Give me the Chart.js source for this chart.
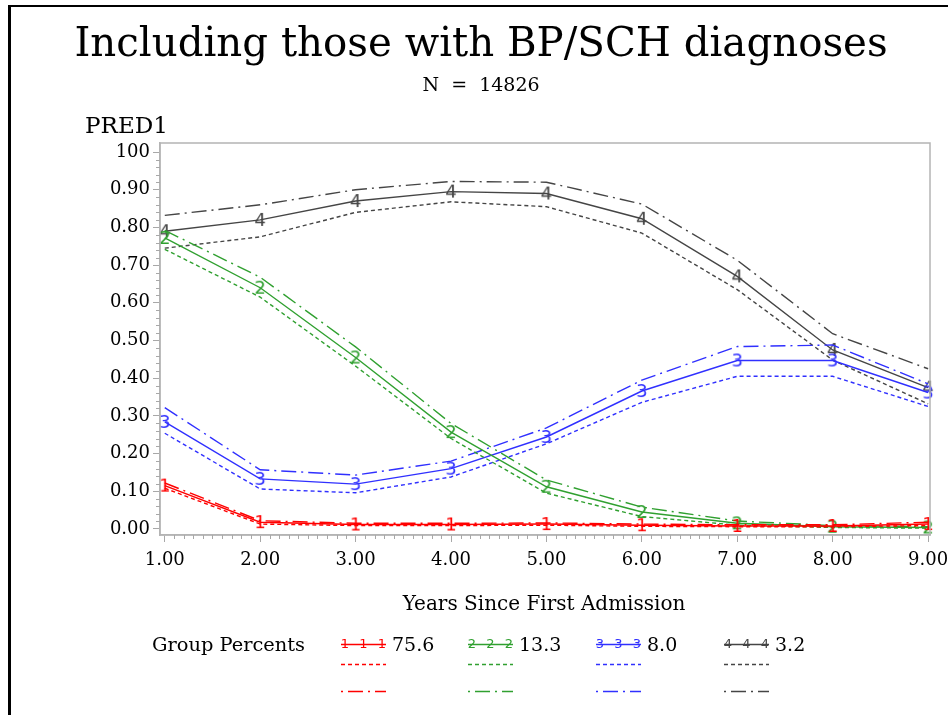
<!DOCTYPE html>
<html>
<head>
<meta charset="utf-8">
<script src="https://cdn.jsdelivr.net/npm/chart.js@4.4.0/dist/chart.umd.min.js"></script>
<style>
  body { margin: 0; background: #fff; }
  #wrap { position: relative; width: 948px; height: 715px; overflow: hidden; }
  #frame { position: absolute; left: 8px; top: 5px; width: 960px; height: 720px;
           border-top: 2px solid #000; border-left: 3px solid #000; }
  canvas { position: absolute; left: 0; top: 0; }
</style>
</head>
<body>
<div id="wrap">
  <canvas id="chart" width="948" height="715"></canvas>
  <div id="frame"></div>
</div>
<script>
// Data
const years = [1, 2, 3, 4, 5, 6, 7, 8, 9];
const xTicks = [1, 2, 3, 4, 5, 6, 7, 8, 9];
const xTickLabels = ['1.00', '2.00', '3.00', '4.00', '5.00', '6.00', '7.00', '8.00', '9.00'];
const yTicks = [0, 0.1, 0.2, 0.3, 0.4, 0.5, 0.6, 0.7, 0.8, 0.9, 1.0];
const yTickLabels = ['0.00', '0.10', '0.20', '0.30', '0.40', '0.50', '0.60', '0.70', '0.80', '0.90', '100'];

const groupNames = ['1', '2', '3', '4'];
const groupPercents = ['75.6', '13.3', '8.0', '3.2'];

const pred1 = [0.115, 0.018, 0.012, 0.012, 0.013, 0.010, 0.008, 0.008, 0.013];
const low1  = [0.108, 0.013, 0.009, 0.009, 0.010, 0.007, 0.006, 0.006, 0.009];
const upp1  = [0.122, 0.022, 0.015, 0.015, 0.016, 0.013, 0.011, 0.011, 0.018];

const pred2 = [0.772, 0.640, 0.455, 0.257, 0.112, 0.045, 0.015, 0.006, 0.004];
const low2  = [0.742, 0.615, 0.432, 0.240, 0.095, 0.033, 0.010, 0.004, 0.002];
const upp2  = [0.792, 0.668, 0.483, 0.280, 0.130, 0.058, 0.021, 0.009, 0.006];

const pred3 = [0.284, 0.133, 0.119, 0.160, 0.244, 0.366, 0.447, 0.447, 0.362];
const low3  = [0.254, 0.106, 0.096, 0.138, 0.226, 0.336, 0.405, 0.405, 0.325];
const upp3  = [0.322, 0.157, 0.143, 0.180, 0.268, 0.395, 0.484, 0.488, 0.385];

const pred4 = [0.790, 0.820, 0.870, 0.895, 0.890, 0.823, 0.670, 0.475, 0.375];
const low4  = [0.745, 0.775, 0.840, 0.868, 0.855, 0.785, 0.635, 0.448, 0.332];
const upp4  = [0.832, 0.860, 0.900, 0.922, 0.920, 0.862, 0.713, 0.518, 0.425];

const preds = [pred1, pred2, pred3, pred4];
const lows = [low1, low2, low3, low4];
const upps = [upp1, upp2, upp3, upp4];

const colors = ['#ff0000', '#30a030', '#3030ff', '#454545'];
const dashLow = [4, 3];
const dashUpp = [15, 5, 2, 5];

const serif = '"DejaVu Serif", serif';

// digit glyph used as point marker
function digitMarker(ch, color, size) {
    const c = document.createElement('canvas');
    c.width = Math.round(size * 0.8);
    c.height = Math.round(size * 1.2);
    const g = c.getContext('2d');
    g.font = size + 'px "DejaVu Sans"';
    g.fillStyle = color;
    g.textAlign = 'center';
    g.textBaseline = 'middle';
    g.fillText(ch, c.width / 2, c.height / 2 + 1);
    return c;
}

function pts(arr) {
    return years.map((x, i) => ({ x: x, y: arr[i] }));
}

const datasets = [];
for (let g = 0; g < 4; g++) {
    datasets.push({
        label: 'Group ' + groupNames[g],
        data: pts(preds[g]),
        borderColor: colors[g],
        borderWidth: 1.4,
        pointStyle: digitMarker(groupNames[g], colors[g], 18),
        pointRadius: 3
    });
    datasets.push({
        label: 'Lower ' + groupNames[g],
        data: pts(lows[g]),
        borderColor: colors[g],
        borderWidth: 1.4,
        borderDash: dashLow,
        pointRadius: 0
    });
    datasets.push({
        label: 'Upper ' + groupNames[g],
        data: pts(upps[g]),
        borderColor: colors[g],
        borderWidth: 1.4,
        borderDash: dashUpp,
        pointRadius: 0
    });
}

function fitFont(ctx, text, width, family, weight) {
    ctx.font = (weight || '') + ' 100px ' + family;
    const w = ctx.measureText(text).width;
    return (weight || '') + ' ' + (100 * width / w).toFixed(1) + 'px ' + family;
}

// titles, frame, minor ticks, legend
const decorations = {
    id: 'decorations',
    afterDraw(chart) {
        const ctx = chart.ctx;
        const area = chart.chartArea;
        const xs = chart.scales.x, ys = chart.scales.y;
        ctx.save();

        // frame
        ctx.strokeStyle = '#b4b4b4';
        ctx.lineWidth = 1.5;
        ctx.strokeRect(area.left, area.top, area.right - area.left, area.bottom - area.top);

        // minor ticks
        ctx.strokeStyle = '#a8a8a8';
        ctx.lineWidth = 1;
        ctx.beginPath();
        for (let v = 0; v <= 1.0001; v += 0.02) {
            if (Math.abs(v * 10 - Math.round(v * 10)) < 1e-6) continue;
            const y = Math.round(ys.getPixelForValue(v)) + 0.5;
            ctx.moveTo(area.left, y);
            ctx.lineTo(area.left - 4, y);
        }
        for (let v = 1; v <= 9.0001; v += 0.1) {
            if (Math.abs(v - Math.round(v)) < 1e-6) continue;
            const x = Math.round(xs.getPixelForValue(v)) + 0.5;
            ctx.moveTo(x, area.bottom);
            ctx.lineTo(x, area.bottom + 4);
        }
        ctx.stroke();

        // texts
        ctx.fillStyle = '#000';
        ctx.textBaseline = 'alphabetic';
        ctx.textAlign = 'center';
        const title = 'Including those with BP/SCH diagnoses';
        ctx.font = fitFont(ctx, title, 813, serif);
        ctx.fillText(title, 481, 56);
        ctx.font = '19px ' + serif;
        ctx.fillText('N  =  14826', 481, 91);
        const xTitle = 'Years Since First Admission';
        ctx.font = fitFont(ctx, xTitle, 283, serif);
        ctx.fillText(xTitle, 544, 610);
        ctx.textAlign = 'left';
        ctx.font = fitFont(ctx, 'PRED1', 83, serif);
        ctx.fillText('PRED1', 85, 133);
        ctx.font = fitFont(ctx, 'Group Percents', 153, serif);
        ctx.fillText('Group Percents', 152, 651);

        // legend
        const legendX = [341, 468, 596, 724];
        const sampleLen = 45;
        const rows = [644, 664, 691];
        for (let g = 0; g < 4; g++) {
            const x0 = legendX[g];
            for (let r = 0; r < 3; r++) {
                const ds = chart.data.datasets[g * 3 + r];
                ctx.strokeStyle = ds.borderColor;
                ctx.lineWidth = 1.4;
                ctx.setLineDash(ds.borderDash || []);
                // start the dash-dot sample on its dot
                ctx.lineDashOffset = r === 2 ? 20 : 0;
                ctx.beginPath();
                ctx.moveTo(x0, rows[r] + 0.5);
                ctx.lineTo(x0 + sampleLen, rows[r] + 0.5);
                ctx.stroke();
            }
            ctx.setLineDash([]);
            ctx.lineDashOffset = 0;
            ctx.fillStyle = colors[g];
            ctx.font = '13px "DejaVu Sans"';
            ctx.textAlign = 'center';
            ctx.textBaseline = 'middle';
            for (let k = 0; k < 3; k++) {
                ctx.fillText(groupNames[g], x0 + 4 + k * (sampleLen - 8) / 2, rows[0] + 1);
            }
            ctx.fillStyle = '#000';
            ctx.textAlign = 'left';
            ctx.textBaseline = 'alphabetic';
            ctx.font = '19px ' + serif;
            ctx.fillText(groupPercents[g], x0 + sampleLen + 6, 651);
        }
        ctx.restore();
    }
};

const chart = new Chart(document.getElementById('chart'), {
    type: 'line',
    data: { datasets: datasets },
    options: {
        responsive: false,
        animation: false,
        events: [],
        layout: { padding: { left: 0, right: 18, top: 143, bottom: 0 } },
        elements: { line: { tension: 0 } },
        datasets: { line: { clip: 10 } },
        plugins: {
            legend: { display: false },
            title: { display: false },
            tooltip: { enabled: false }
        },
        scales: {
            x: {
                type: 'linear',
                min: 0.95,
                max: 9.02,
                afterBuildTicks: s => { s.ticks = xTicks.map(v => ({ value: v })); },
                afterFit: s => { s.height = 180; s.paddingLeft = 0; s.paddingRight = 0; },
                border: { display: true, color: '#b4b4b4', width: 1.5 },
                grid: { drawOnChartArea: false, drawTicks: true, tickLength: 7, color: '#a8a8a8' },
                ticks: {
                    autoSkip: false,
                    maxRotation: 0,
                    padding: 8,
                    color: '#000',
                    font: { family: serif, size: 18 },
                    callback: (v, i) => xTickLabels[i]
                }
            },
            y: {
                type: 'linear',
                min: -0.016,
                max: 1.024,
                afterBuildTicks: s => { s.ticks = yTicks.map(v => ({ value: v })); },
                afterFit: s => { s.width = 160; s.paddingTop = 0; s.paddingBottom = 0; },
                border: { display: true, color: '#b4b4b4', width: 1.5 },
                grid: { drawOnChartArea: false, drawTicks: true, tickLength: 7, color: '#a8a8a8' },
                ticks: {
                    autoSkip: false,
                    padding: 3,
                    color: '#000',
                    font: { family: serif, size: 18 },
                    callback: (v, i) => yTickLabels[i]
                }
            }
        }
    },
    plugins: [decorations]
});
</script>
</body>
</html>
